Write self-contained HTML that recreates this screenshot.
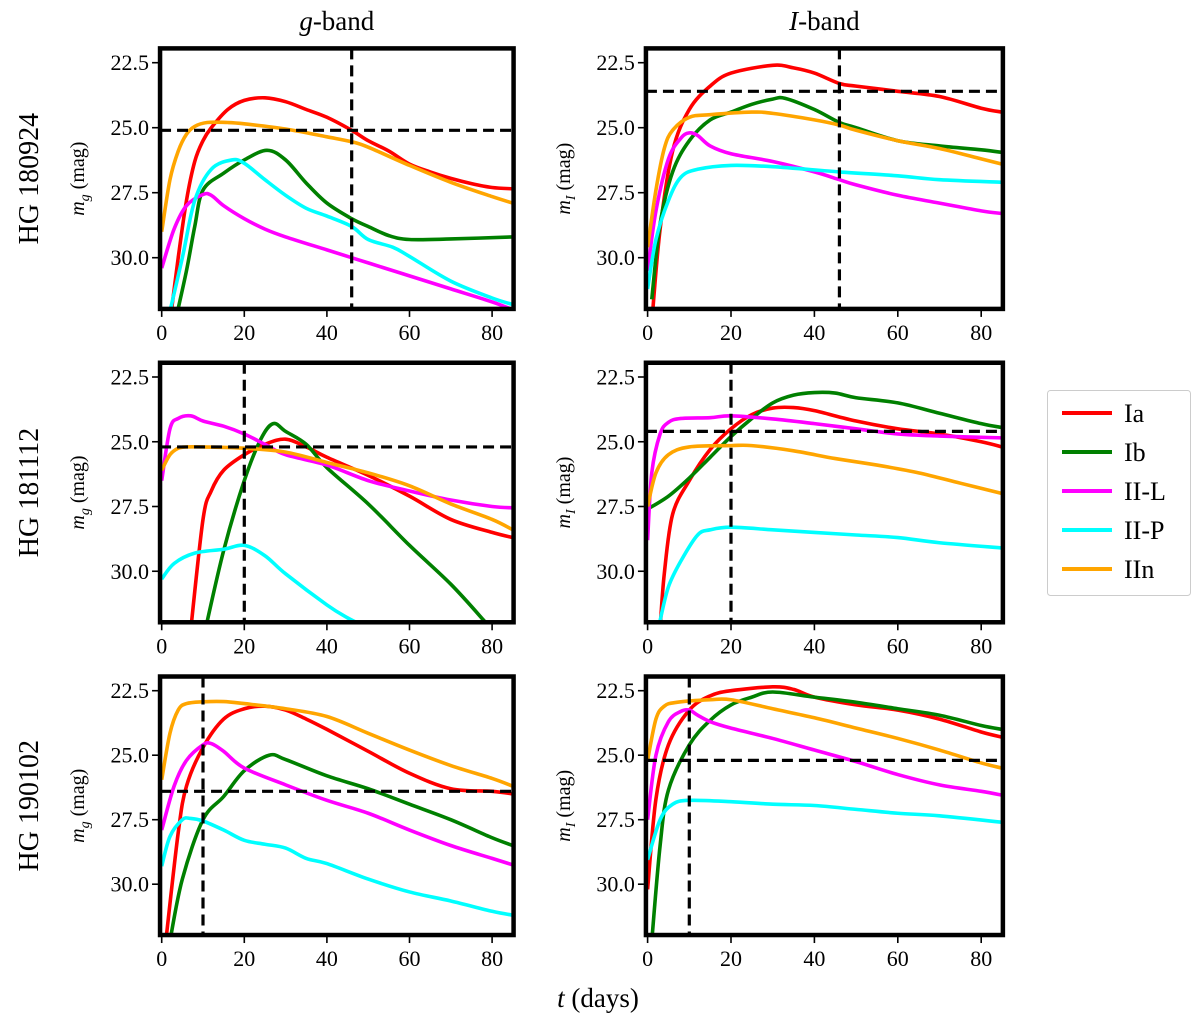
<!DOCTYPE html>
<html><head><meta charset="utf-8"><style>
body{margin:0;background:#fff}
svg text{font-family:"Liberation Serif",serif;fill:#000}
</style></head><body>
<svg id="fig" width="1200" height="1026" viewBox="0 0 1200 1026" xmlns="http://www.w3.org/2000/svg"></svg>
<script>
const types = ["Ia","Ib","II-L","II-P","IIn"];
const colors = ["#ff0000","#008000","#ff00ff","#00ffff","#ffa500"];
const hosts = ["HG 180924","HG 181112","HG 190102"];
const bands = ["g","I"];
const xTicks = [0,20,40,60,80];
const yTicks = [22.5,25.0,27.5,30.0];
// dashed marker lines [vertical t, horizontal mag] per panel (row-major: g, I)
const vLines = [46,46,20,20,10,10];
const hLines = [25.1,23.6,25.2,24.6,26.4,25.2];
// series: [t, mag] pairs per panel per type
const pA_Ia = [[2,32.5],[4,30],[6,27.8],[8,26.3],[10,25.5],[12,25],[16,24.3],[20,23.95],[25,23.85],[30,24.0],[35,24.3],[40,24.6],[46,25.1],[50,25.5],[55,25.9],[60,26.4],[65,26.7],[70,26.95],[75,27.15],[80,27.3],[85,27.35]];
const pA_Ib = [[3.5,32.3],[6,30.5],[8,28.8],[10,27.4],[15,26.75],[20,26.24],[25.5,25.87],[30,26.24],[35,27.13],[40,27.9],[46,28.5],[50,28.8],[55,29.15],[60,29.3],[70,29.28],[85,29.2]];
const pA_IIL = [[0,30.4],[3,28.9],[6,28.0],[10,27.57],[12,27.6],[15,28.0],[20,28.5],[25,28.9],[30,29.2],[40,29.7],[46,30.0],[50,30.2],[60,30.7],[70,31.2],[80,31.7],[85,32.0]];
const pA_IIP = [[1.5,32.4],[5,30.0],[8,27.8],[12,26.6],[17,26.24],[20,26.37],[25,27.0],[30,27.6],[35,28.1],[40,28.4],[46,28.8],[50,29.3],[56,29.6],[60,29.95],[70,30.9],[80,31.55],[85,31.8]];
const pA_IIn = [[0,29.0],[2,27.0],[4,25.9],[6,25.25],[8,24.95],[11,24.8],[16,24.8],[20,24.85],[30,25.05],[40,25.35],[46,25.54],[50,25.75],[60,26.45],[70,27.1],[80,27.65],[85,27.9]];
const pB_Ia = [[1,32.5],[3,28.9],[6,25.9],[10,24.3],[15,23.4],[20,22.9],[30,22.6],[35,22.7],[40,22.9],[46,23.3],[50,23.4],[60,23.6],[70,23.8],[80,24.25],[85,24.4]];
const pB_Ib = [[1,31.6],[3,28.7],[6,26.7],[10,25.5],[15,24.7],[20,24.4],[25,24.1],[30,23.9],[33,23.87],[40,24.3],[46,24.8],[50,25.0],[60,25.5],[70,25.7],[80,25.85],[85,25.95]];
const pB_IIL = [[0,30.5],[2,28.2],[5,26.2],[8,25.4],[10,25.2],[12,25.3],[15,25.7],[20,26.0],[30,26.3],[40,26.7],[46,27.0],[50,27.2],[60,27.6],[70,27.9],[80,28.2],[85,28.3]];
const pB_IIP = [[0,31.2],[2,29.3],[5,27.8],[8,26.9],[12,26.6],[20,26.45],[30,26.5],[46,26.7],[60,26.85],[70,27.0],[85,27.1]];
const pB_IIn = [[0,29.6],[2,27.4],[4,25.8],[6,25.1],[10,24.6],[15,24.5],[25,24.4],[30,24.45],[40,24.7],[46,24.9],[50,25.1],[60,25.5],[70,25.8],[80,26.2],[85,26.4]];
const pC_Ia = [[7,32.3],[10,28.0],[12,26.9],[15,26.1],[20,25.5],[25,25.1],[30,24.9],[35,25.2],[40,25.6],[50,26.3],[60,27.1],[70,28.0],[80,28.5],[85,28.7]];
const pC_Ib = [[10.5,32.3],[15,29.2],[20,26.5],[24,24.9],[27,24.3],[30,24.6],[35,25.1],[40,26.0],[50,27.4],[60,29.0],[70,30.5],[78,31.9],[80,32.3]];
const pC_IIL = [[0,26.5],[2,24.5],[4,24.1],[7,24.0],[10,24.2],[15,24.4],[20,24.7],[25,25.1],[30,25.5],[40,25.9],[50,26.5],[60,26.9],[70,27.25],[80,27.5],[85,27.55]];
const pC_IIP = [[0,30.3],[3,29.7],[8,29.3],[15,29.15],[20,29.0],[25,29.4],[30,30.1],[40,31.3],[45,31.8],[50,32.2]];
const pC_IIn = [[0,26.1],[2,25.5],[4,25.25],[6,25.2],[10,25.2],[20,25.25],[30,25.4],[40,25.8],[50,26.2],[60,26.7],[70,27.4],[80,28.0],[85,28.4]];
const pD_Ia = [[3,32.2],[4,30.1],[6,27.8],[10,26.5],[15,25.3],[20,24.5],[25,23.95],[30,23.7],[35,23.68],[40,23.8],[50,24.2],[60,24.5],[70,24.7],[80,25.0],[85,25.2]];
const pD_Ib = [[0,27.6],[5,27.1],[10,26.4],[15,25.6],[20,24.8],[25,24.1],[30,23.5],[35,23.2],[40,23.1],[45,23.12],[50,23.3],[60,23.5],[70,23.9],[80,24.3],[85,24.45]];
const pD_IIL = [[0,28.8],[1,26.2],[3,24.7],[5,24.25],[8,24.1],[15,24.07],[20,24.0],[30,24.12],[40,24.3],[50,24.5],[60,24.7],[70,24.78],[85,24.85]];
const pD_IIP = [[3,31.9],[5,30.6],[8,29.6],[12,28.6],[15,28.4],[20,28.3],[30,28.4],[40,28.5],[50,28.6],[60,28.7],[70,28.9],[85,29.1]];
const pD_IIn = [[0,27.5],[2,26.2],[5,25.5],[10,25.2],[20,25.15],[25,25.15],[35,25.35],[45,25.65],[55,25.9],[65,26.2],[75,26.6],[85,27.0]];
const pE_Ia = [[1,32.2],[4,28.0],[6,26.2],[10,24.7],[15,23.6],[20,23.2],[25,23.1],[30,23.25],[35,23.6],[40,24.0],[50,24.85],[60,25.7],[70,26.3],[80,26.4],[85,26.5]];
const pE_Ib = [[2,32.2],[5,29.8],[10,27.5],[15,26.6],[20,25.6],[26,25.0],[30,25.17],[40,25.8],[50,26.3],[60,26.9],[70,27.5],[80,28.2],[85,28.5]];
const pE_IIL = [[0,27.9],[3,26.2],[6,25.2],[10,24.6],[12,24.55],[15,24.85],[20,25.5],[30,26.15],[40,26.75],[50,27.25],[60,27.9],[70,28.5],[80,29.0],[85,29.25]];
const pE_IIP = [[0,29.3],[2,28.15],[5,27.5],[7,27.45],[10,27.55],[15,27.9],[20,28.3],[25,28.45],[30,28.6],[35,29.0],[40,29.2],[50,29.8],[60,30.3],[70,30.65],[80,31.05],[85,31.2]];
const pE_IIn = [[0,25.95],[2,24.15],[4,23.25],[6,23.0],[10,22.93],[15,22.92],[20,23.0],[30,23.2],[40,23.5],[50,24.15],[60,24.8],[70,25.4],[80,25.9],[85,26.2]];
const pF_Ia = [[0,30.2],[2,26.7],[5,24.6],[10,23.25],[15,22.7],[20,22.5],[30,22.35],[35,22.45],[40,22.75],[50,23.05],[60,23.25],[70,23.6],[80,24.1],[85,24.3]];
const pF_Ib = [[1,32.2],[3,28.5],[5,26.35],[10,24.6],[15,23.65],[20,23.05],[25,22.75],[30,22.55],[40,22.75],[50,22.95],[60,23.2],[70,23.45],[80,23.85],[85,24.0]];
const pF_IIL = [[0,27.5],[2,25.0],[5,23.7],[8,23.3],[10,23.25],[12,23.45],[15,23.7],[20,23.95],[30,24.35],[40,24.8],[50,25.25],[60,25.75],[70,26.15],[80,26.4],[85,26.55]];
const pF_IIP = [[0,29.05],[3,27.5],[6,26.9],[10,26.75],[20,26.8],[30,26.9],[40,26.95],[50,27.1],[60,27.25],[70,27.35],[85,27.6]];
const pF_IIn = [[0,25.2],[2,23.6],[4,23.1],[7,22.95],[15,22.85],[20,22.85],[30,23.2],[40,23.55],[50,23.95],[60,24.35],[70,24.8],[80,25.3],[85,25.5]];
const panelSeries = [
 [pA_Ia,pA_Ib,pA_IIL,pA_IIP,pA_IIn],[pB_Ia,pB_Ib,pB_IIL,pB_IIP,pB_IIn],
 [pC_Ia,pC_Ib,pC_IIL,pC_IIP,pC_IIn],[pD_Ia,pD_Ib,pD_IIL,pD_IIP,pD_IIn],
 [pE_Ia,pE_Ib,pE_IIL,pE_IIP,pE_IIn],[pF_Ia,pF_Ib,pF_IIL,pF_IIP,pF_IIn]];

const NS="http://www.w3.org/2000/svg";
const svg=document.getElementById('fig');
function el(tag,attrs,parent){const e=document.createElementNS(NS,tag);for(const k in attrs)e.setAttribute(k,attrs[k]);(parent||svg).appendChild(e);return e;}
const colX0=[161.7,647.6], colS=[4.13,4.17];
const rowY=[62.7,377,690.7], rowS=[26,25.9,25.8];
const T0=-0.4,T1=85.2,M0=21.95,M1=31.97;
function spline(p){let d=`M${p[0][0]},${p[0][1]}`;for(let i=0;i<p.length-1;i++){const a=p[i-1]||p[i],b=p[i],c=p[i+1],e=p[i+2]||c;
 const c1=[b[0]+(c[0]-a[0])/6,b[1]+(c[1]-a[1])/6],c2=[c[0]-(e[0]-b[0])/6,c[1]-(e[1]-b[1])/6];
 d+=`C${c1[0]},${c1[1]} ${c2[0]},${c2[1]} ${c[0]},${c[1]}`;}return d;}
for(let r=0;r<3;r++)for(let c=0;c<2;c++){
 const idx=r*2+c;
 const X=t=>colX0[c]+t*colS[c], Y=m=>rowY[r]+(m-22.5)*rowS[r];
 const x0=X(T0),x1=X(T1),y0=Y(M0),y1=Y(M1);
 const g=el('g',{});
 
 
 const cp=el('clipPath',{id:'cp'+idx},g);el('rect',{x:x0,y:y0,width:x1-x0,height:y1-y0},cp);
 const lines=el('g',{'clip-path':`url(#cp${idx})`},g);
 panelSeries[idx].forEach((s,k)=>{
  const p=el('path',{d:spline(s.map(q=>[X(q[0]),Y(q[1])])),fill:'none',stroke:colors[k],'stroke-width':3.6,'stroke-linejoin':'round'},lines);
  
  
 });
 const vl=el('line',{x1:X(vLines[idx]),x2:X(vLines[idx]),y1:y0,y2:y1,stroke:'#000','stroke-width':3.2,'stroke-dasharray':'11,6'},lines);
 
 
 const hl=el('line',{x1:x0,x2:x1,y1:Y(hLines[idx]),y2:Y(hLines[idx]),stroke:'#000','stroke-width':3.2,'stroke-dasharray':'11,6'},lines);
 
 
 const fr=el('rect',{x:x0,y:y0,width:x1-x0,height:y1-y0,fill:'none',stroke:'#000','stroke-width':4.5},g);
 
 
 xTicks.forEach(t=>{el('line',{x1:X(t),x2:X(t),y1:y1+2,y2:y1+8,stroke:'#000','stroke-width':1.6},g);
  const tx=el('text',{x:X(t),y:y1+31,'text-anchor':'middle','font-size':22},g);tx.textContent=t;
  
  });
 yTicks.forEach(m=>{el('line',{x1:x0-8,x2:x0-2,y1:Y(m),y2:Y(m),stroke:'#000','stroke-width':1.6},g);
  const tx=el('text',{x:x0-11,y:Y(m)+7.5,'text-anchor':'end','font-size':22},g);tx.textContent=m.toFixed(1);
  
  });
 const yc=(y0+y1)/2, lx=x0-76;
 const yl=el('text',{x:lx,y:yc,'text-anchor':'middle','font-size':20,transform:`rotate(-90 ${lx} ${yc})`},g);
 yl.innerHTML=`<tspan font-style="italic">m</tspan><tspan font-style="italic" font-size="14" dy="5">${bands[c]}</tspan><tspan dy="-5"> (mag)</tspan>`;
 
 
 if(c===0){const rl=el('text',{x:38,y:yc,'text-anchor':'middle','font-size':28,transform:`rotate(-90 38 ${yc})`});rl.textContent=hosts[r];
  
  }
 if(r===0){const ct=el('text',{x:(x0+x1)/2,y:30,'text-anchor':'middle','font-size':27});
  ct.innerHTML=`<tspan font-style="italic">${bands[c]}</tspan>-band`;
  
  }
}
const xt=el('text',{x:598,y:1007,'text-anchor':'middle','font-size':27});
xt.innerHTML='<tspan font-style="italic">t</tspan> (days)';


const lg=el('g',{});


el('rect',{x:1047.5,y:390.5,width:143,height:205,rx:3,fill:'#fff',stroke:'#ccc','stroke-width':1},lg);
types.forEach((t,k)=>{const y=413+k*39;
 const e=el('g',{},lg);
 
 
 el('line',{x1:1062,x2:1112,y1:y,y2:y,stroke:colors[k],'stroke-width':4},e);
 const tx=el('text',{x:1124,y:y+9,'font-size':26},e);tx.textContent=t;});
</script>
</body></html>
